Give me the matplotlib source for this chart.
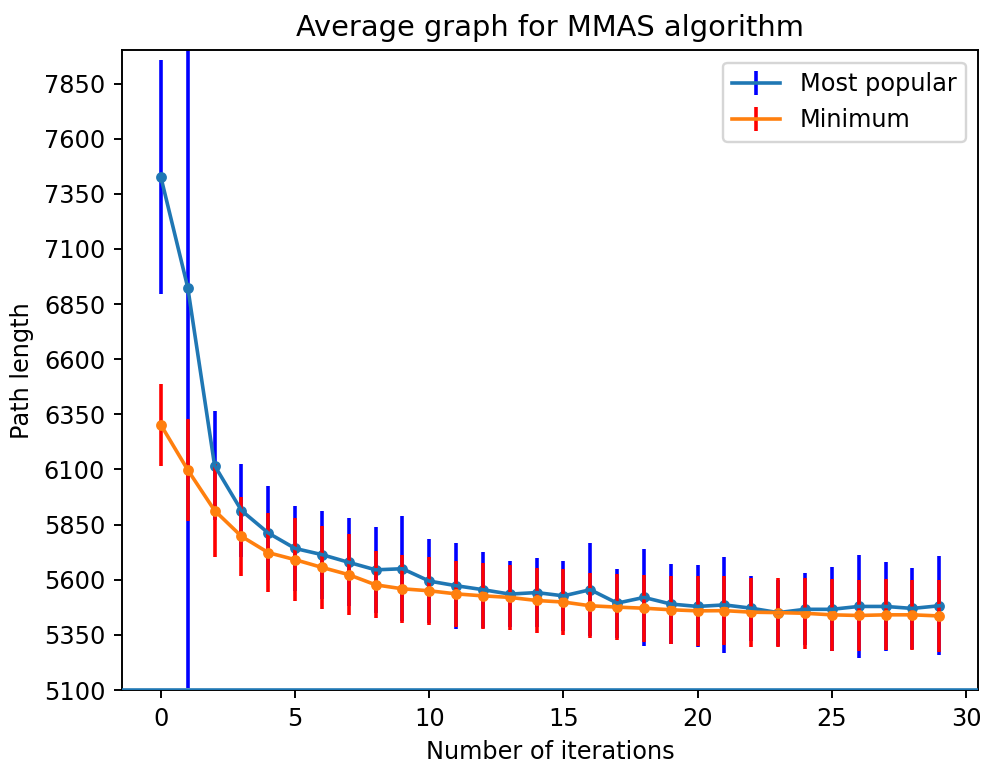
import numpy as np
import matplotlib.pyplot as plt

iterations = list(range(30))

# average path length of the most popular route per iteration, with spread
popular_mean = [7425, 6925, 6118, 5914, 5812, 5742, 5714, 5679, 5645, 5650,
                5594, 5573, 5555, 5535, 5542, 5527, 5555, 5494, 5520, 5490,
                5479, 5486, 5471, 5451, 5466, 5466, 5479, 5479, 5470, 5482]
popular_err = [530, 1815, 247, 212, 212, 193, 200, 200, 196, 238,
               190, 194, 172, 148, 158, 158, 212, 156, 221, 180,
               186, 218, 147, 150, 164, 190, 232, 201, 183, 224]

# average minimum path length per iteration, with spread
minimum_mean = [6302, 6098, 5914, 5797, 5723, 5691, 5656, 5623, 5577, 5559,
                5550, 5536, 5527, 5520, 5506, 5499, 5482, 5476, 5471, 5464,
                5459, 5460, 5453, 5451, 5448, 5441, 5438, 5441, 5441, 5436]
minimum_err = [187, 230, 213, 179, 178, 187, 189, 184, 152, 155,
               154, 150, 149, 149, 149, 150, 148, 150, 152, 154,
               159, 158, 157, 157, 162, 162, 162, 161, 160, 163]

DPI = 173
plt.figure(figsize=(984 / DPI, 765 / DPI), dpi=DPI)
plt.subplots_adjust(left=0.124, right=0.994, bottom=0.098, top=0.934)

plt.errorbar(iterations, popular_mean, yerr=popular_err, color='C0', ecolor='blue', label='Most popular')
plt.plot(iterations, popular_mean, '.', color='C0', ms=7)
plt.errorbar(iterations, minimum_mean, yerr=minimum_err, color='C1', ecolor='red', label='Minimum')
plt.plot(iterations, minimum_mean, '.', color='C1', ms=7)
plt.axhline(5100, color='C0', zorder=3)

plt.ylim(5100, 8000)
plt.yticks(np.arange(5100, 8000, 250))
plt.title("Average graph for MMAS algorithm")
plt.xlabel("Number of iterations")
plt.ylabel("Path length")
plt.legend(loc='upper right')
plt.savefig("out.png", dpi=DPI)
